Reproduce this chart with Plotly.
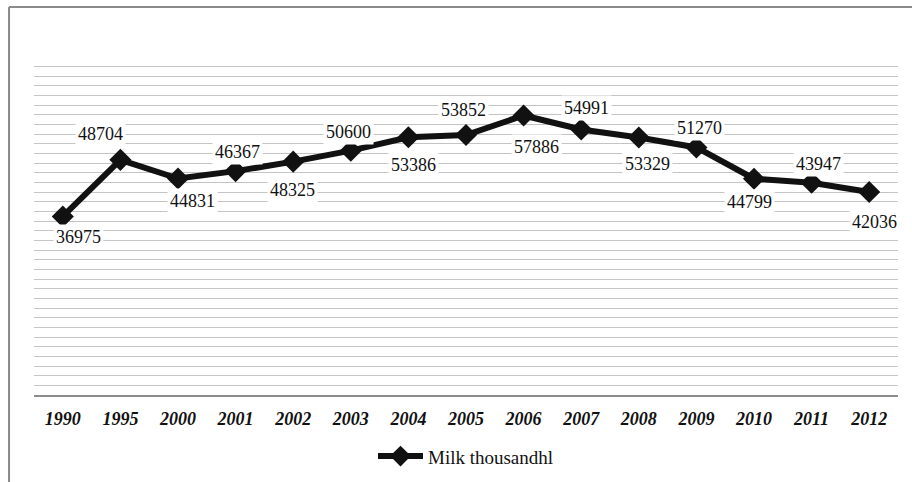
import plotly.graph_objects as go

years = ["1990", "1995", "2000", "2001", "2002", "2003", "2004", "2005",
         "2006", "2007", "2008", "2009", "2010", "2011", "2012"]
milk = [36975, 48704, 44831, 46367, 48325, 50600, 53386, 53852,
        57886, 54991, 53329, 51270, 44799, 43947, 42036]

# label placement offsets in pixels (style only)
label_dx = [16, -20, 14, 2, -1, -2, 5, -3, 13, 5, 9, 3, -5, 7, 5]
label_dy = [21, -26, 22, -19, 28, -19, 28, -25, 32, -21, 26, -19, 23, -19, 30]

fig = go.Figure()
fig.add_trace(go.Scatter(
    x=years, y=milk, mode="lines+markers", name="Milk thousandhl",
    line=dict(color="#111111", width=6),
    marker=dict(symbol="diamond", size=17, color="#111111"),
))

for i, (v, dx, dy) in enumerate(zip(milk, label_dx, label_dy)):
    fig.add_annotation(
        x=i, y=v, text=str(v), showarrow=False,
        xshift=dx, yshift=-dy,
        font=dict(family="Liberation Serif", size=18, color="#111111"),
        bgcolor="white", borderpad=2,
    )

# outer frame (left and top edges)
fig.add_shape(type="line", xref="paper", yref="paper",
              x0=-0.0289, x1=-0.0289, y0=-0.3, y1=1.148,
              line=dict(color="#8a8a8a", width=2))
fig.add_shape(type="line", xref="paper", yref="paper",
              x0=-0.0289, x1=1.02, y0=1.148, y1=1.148,
              line=dict(color="#8a8a8a", width=2))

fig.update_layout(
    width=912, height=482,
    margin=dict(l=34, r=14, t=57, b=87, autoexpand=False),
    paper_bgcolor="white", plot_bgcolor="white",
    showlegend=True,
    legend=dict(orientation="h", x=0.5, xanchor="center", y=-0.125, yanchor="top",
                font=dict(family="Liberation Serif", size=19, color="#111111"),
                itemwidth=45),
    xaxis=dict(type="category", categoryorder="array", categoryarray=years,
               range=[-0.5, len(years) - 0.5],
               showgrid=False, showline=True,
               linecolor="#8c8c8c", linewidth=1.5, ticks="",
               ticklabelstandoff=7,
               tickfont=dict(family="Liberation Serif", size=18, color="#111111",
                             weight="bold", style="italic")),
    yaxis=dict(range=[0, 70000], dtick=2000, showticklabels=False,
               showgrid=True, gridcolor="#c4c4c4", gridwidth=1.3,
               zeroline=False, showline=False, ticks=""),
)

fig.write_html("out.html", config={"displayModeBar": False},
               post_script="document.body.style.margin='0';document.body.style.overflow='hidden';")
